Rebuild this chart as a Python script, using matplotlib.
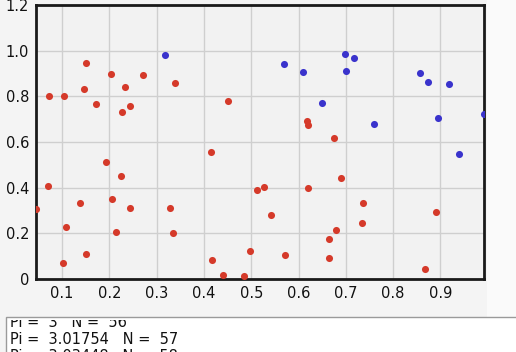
import numpy as np
import matplotlib.pyplot as plt
from matplotlib.patches import Rectangle

# points inside the quarter circle (red)
in_x = [0.150, 0.204, 0.271, 0.234, 0.146, 0.072, 0.104, 0.171, 0.244, 0.227,
        0.338, 0.451, 0.415, 0.193, 0.225, 0.071, 0.512, 0.139, 0.205, 0.045,
        0.243, 0.328, 0.108, 0.214, 0.335, 0.150, 0.103, 0.497, 0.416, 0.441,
        0.485, 0.527, 0.690, 0.619, 0.736, 0.890, 0.542, 0.735, 0.679, 0.665,
        0.571, 0.665, 0.868, 0.617, 0.619, 0.674]
in_y = [0.946, 0.898, 0.892, 0.843, 0.831, 0.803, 0.800, 0.768, 0.759, 0.730,
        0.860, 0.779, 0.555, 0.513, 0.453, 0.407, 0.390, 0.333, 0.352, 0.306,
        0.309, 0.309, 0.226, 0.205, 0.201, 0.111, 0.070, 0.123, 0.085, 0.016,
        0.012, 0.403, 0.443, 0.399, 0.331, 0.292, 0.281, 0.245, 0.214, 0.175,
        0.103, 0.094, 0.044, 0.691, 0.673, 0.618]

# points outside (blue)
out_x = [0.318, 0.570, 0.610, 0.698, 0.718, 0.701, 0.856, 0.874, 0.917, 0.650,
         0.759, 0.895, 0.992, 0.940]
out_y = [0.981, 0.942, 0.907, 0.986, 0.967, 0.911, 0.901, 0.863, 0.853, 0.771,
         0.677, 0.703, 0.722, 0.549]

log_lines = ["Pi =  3   N =  56", "Pi =  3.01754   N =  57", "Pi =  3.03448   N =  58"]

W, H = 516, 352
fig = plt.figure(figsize=(W/100, H/100), dpi=100)
fig.patch.set_facecolor('#f4f4f4')
# lighter strip at the right of the chart panel
fig.patches.append(Rectangle((487/W, 35/H), 1, 1, transform=fig.transFigure,
                             facecolor='#fafafa', edgecolor='none', zorder=0))

ax = fig.add_axes([36/W, 73/H, 448/W, 274/H])
ax.set_facecolor('#f2f2f2')

ax.scatter(in_x, in_y, s=26, c='#d53a2a', zorder=3, linewidths=0)
ax.scatter(out_x, out_y, s=26, c='#3a33cc', zorder=3, linewidths=0)

ax.set_xlim(min(in_x + out_x), max(in_x + out_x))
ax.set_ylim(0, 1.2)
ax.set_xticks(np.arange(0.1, 0.95, 0.1))
ax.set_xticklabels(['0.1', '0.2', '0.3', '0.4', '0.5', '0.6', '0.7', '0.8', '0.9'])
ax.set_yticks([0, 0.2, 0.4, 0.6, 0.8, 1.0, 1.2])
ax.set_yticklabels(['0', '0.2', '0.4', '0.6', '0.8', '1.0', '1.2'])
ax.tick_params(length=0, labelsize=10.5, colors='#111111', pad=5)
ax.grid(True, color='#cfcfcf', linewidth=1)
ax.set_axisbelow(True)
for sp in ax.spines.values():
    sp.set_linewidth(2)
    sp.set_color('#1a1a1a')

# console area below the chart
box = Rectangle((6/W, -0.1), 1, 35/H + 0.1, transform=fig.transFigure,
                facecolor='white', edgecolor='#9a9a9a', linewidth=1)
fig.patches.append(box)
clip = Rectangle((6/W, 0), 1, 32/H, transform=fig.transFigure,
                 facecolor='none', edgecolor='none')
fig.patches.append(clip)
for i, line in enumerate(log_lines):
    t = fig.text(10/W, (25.3 - 17*i)/H, line, fontsize=10.5, va='baseline',
                 color='#111111')
    t.set_clip_path(clip)

fig.savefig('out.png', dpi=100, facecolor=fig.get_facecolor())
